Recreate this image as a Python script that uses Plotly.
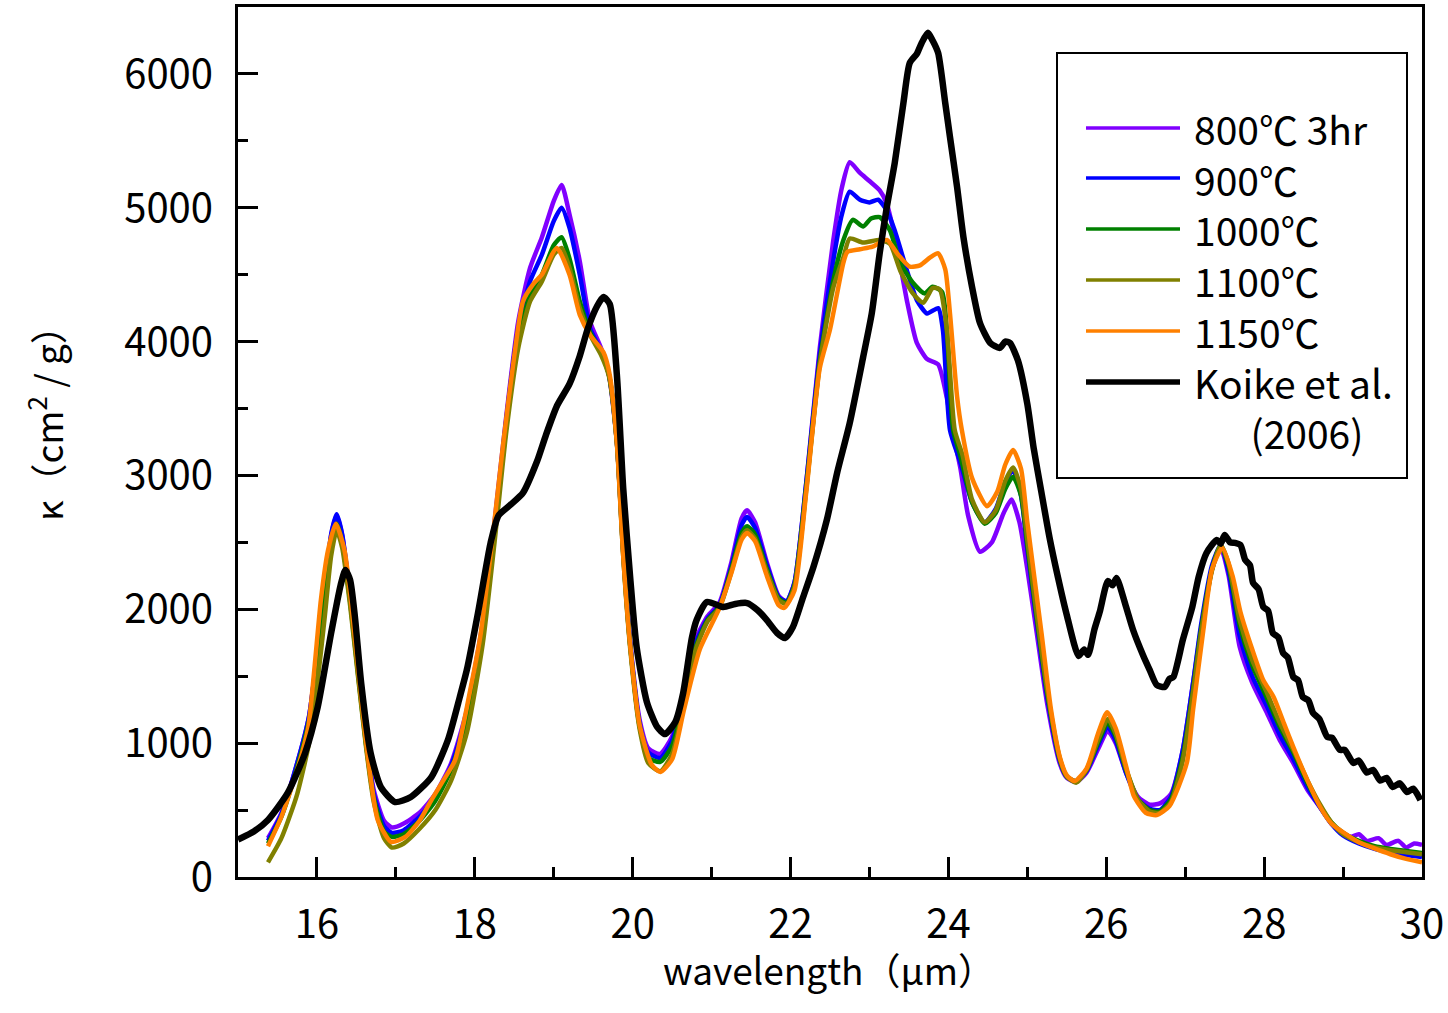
import plotly.graph_objects as go

# ---------------- data ----------------
wl_800 = [15.38, 15.55, 15.75, 15.9, 16.0, 16.1, 16.18, 16.25, 16.32, 16.42, 16.52, 16.62, 16.72, 16.85, 16.95,
          17.1, 17.3, 17.5, 17.7, 17.9, 18.1, 18.25, 18.4, 18.55, 18.7, 18.85, 19.0, 19.1, 19.2, 19.33, 19.46,
          19.6, 19.7, 19.8, 19.88, 19.97, 20.09, 20.2, 20.35, 20.5, 20.65, 20.8, 20.95, 21.1, 21.25, 21.38,
          21.45, 21.55, 21.7, 21.85, 21.95, 22.05, 22.2, 22.37, 22.54, 22.65, 22.75, 22.88, 23.0, 23.13, 23.22,
          23.35, 23.48, 23.6, 23.73, 23.87, 23.98, 24.05, 24.15, 24.25, 24.4, 24.55, 24.7, 24.8, 24.9, 25.0,
          25.12, 25.25, 25.41, 25.5, 25.62, 25.75, 25.9, 26.02, 26.12, 26.25, 26.4, 26.55, 26.68, 26.82, 26.97,
          27.1, 27.2, 27.34, 27.45, 27.55, 27.69, 27.85, 28.04, 28.2, 28.37, 28.55, 28.71, 28.85, 29.0, 29.1,
          29.2, 29.3, 29.45, 29.55, 29.7, 29.8, 29.9, 30.0]
k_800 = [290, 480, 850, 1200, 1650, 2150, 2550, 2700, 2550, 2100, 1550, 1050, 650, 420, 370,
         400, 480, 620, 850, 1250, 1900, 2650, 3450, 4150, 4550, 4780, 5050, 5170, 4950, 4600, 4150,
         3950, 3750, 3250, 2450, 1750, 1170, 960, 920, 1050, 1400, 1780, 1950, 2050, 2350, 2680,
         2740, 2650, 2350, 2100, 2060, 2200, 2950, 3950, 4750, 5150, 5340, 5260, 5200, 5130, 5030,
         4700, 4290, 3990, 3870, 3830, 3580, 3340, 3060, 2700, 2430, 2500, 2720, 2820, 2650, 2300,
         1820, 1300, 850, 740, 710, 780, 960, 1090, 1000, 780, 600, 540, 550, 620, 950,
         1450, 1850, 2300, 2460, 2250, 1720, 1450, 1220, 1020, 850, 650, 520, 400, 330, 300,
         320, 270, 290, 240, 270, 220, 250, 240]

wl_900 = [15.38, 15.55, 15.75, 15.9, 16.0, 16.1, 16.18, 16.25, 16.32, 16.42, 16.52, 16.62, 16.72, 16.85, 16.95,
          17.1, 17.3, 17.5, 17.7, 17.9, 18.1, 18.25, 18.4, 18.55, 18.7, 18.85, 19.0, 19.1, 19.2, 19.33, 19.46,
          19.6, 19.7, 19.8, 19.88, 19.97, 20.09, 20.2, 20.35, 20.5, 20.65, 20.8, 20.95, 21.1, 21.25, 21.38,
          21.45, 21.55, 21.7, 21.85, 21.95, 22.05, 22.2, 22.37, 22.54, 22.65, 22.75, 22.88, 23.0, 23.11, 23.22,
          23.32, 23.47, 23.6, 23.73, 23.87, 23.93, 24.02, 24.15, 24.3, 24.46, 24.6, 24.72, 24.82, 24.92, 25.0,
          25.12, 25.25, 25.41, 25.5, 25.62, 25.75, 25.9, 26.02, 26.12, 26.25, 26.4, 26.55, 26.68, 26.82, 26.97,
          27.1, 27.2, 27.34, 27.45, 27.55, 27.69, 27.85, 28.04, 28.2, 28.37, 28.55, 28.71, 28.85, 29.0, 29.2,
          29.4, 29.6, 29.8, 30.0]
k_900 = [270, 470, 850, 1200, 1650, 2150, 2560, 2710, 2560, 2100, 1550, 1030, 620, 380, 330,
         350, 450, 600, 830, 1220, 1880, 2620, 3420, 4100, 4450, 4650, 4900, 5000, 4850, 4500, 4100,
         3930, 3750, 3250, 2430, 1730, 1140, 930, 890, 1020, 1370, 1750, 1930, 2030, 2320, 2630,
         2690, 2610, 2330, 2090, 2060, 2200, 2950, 3900, 4600, 4950, 5120, 5060, 5040, 5060, 4980,
         4830, 4540, 4310, 4210, 4250, 4090, 3340, 3100, 2800, 2650, 2750, 2950, 3040, 2850, 2450,
         1900, 1350, 870, 750, 715, 790, 990, 1120, 1020, 780, 580, 510, 500, 600, 950,
         1450, 1880, 2330, 2480, 2280, 1800, 1500, 1270, 1060, 880, 670, 520, 400, 310, 250,
         210, 185, 165, 150]

wl_1000 = [15.38, 15.55, 15.75, 15.9, 16.0, 16.1, 16.18, 16.25, 16.32, 16.42, 16.52, 16.62, 16.72, 16.85, 16.95,
           17.1, 17.3, 17.5, 17.7, 17.9, 18.1, 18.25, 18.4, 18.55, 18.7, 18.85, 19.0, 19.1, 19.2, 19.33, 19.46,
           19.6, 19.7, 19.8, 19.88, 19.97, 20.09, 20.2, 20.35, 20.5, 20.65, 20.8, 20.95, 21.1, 21.25, 21.38,
           21.45, 21.55, 21.7, 21.85, 21.95, 22.05, 22.2, 22.37, 22.54, 22.67, 22.79, 22.92, 23.02, 23.13, 23.26,
           23.39, 23.55, 23.7, 23.8, 23.92, 23.98, 24.06, 24.15, 24.3, 24.46, 24.6, 24.72, 24.82, 24.92, 25.0,
           25.12, 25.25, 25.41, 25.5, 25.62, 25.75, 25.9, 26.02, 26.12, 26.25, 26.4, 26.55, 26.68, 26.82, 26.97,
           27.1, 27.2, 27.34, 27.45, 27.55, 27.69, 27.85, 28.04, 28.2, 28.37, 28.55, 28.71, 28.85, 29.0, 29.2,
           29.4, 29.6, 29.8, 30.0]
k_1000 = [250, 450, 820, 1170, 1600, 2100, 2500, 2640, 2500, 2060, 1520, 1000, 590, 340, 300,
          320, 420, 570, 800, 1180, 1840, 2580, 3380, 4000, 4350, 4500, 4720, 4780, 4620, 4300, 4070,
          3920, 3750, 3250, 2420, 1720, 1120, 890, 860, 980, 1330, 1720, 1920, 2020, 2300, 2570,
          2620, 2560, 2300, 2080, 2050, 2180, 2920, 3850, 4450, 4760, 4910, 4860, 4920, 4930, 4830,
          4590, 4440, 4360, 4410, 4370, 4090, 3340, 3150, 2800, 2640, 2720, 2900, 2990, 2850, 2480,
          1930, 1380, 880, 750, 715, 800, 1010, 1150, 1050, 800, 580, 500, 490, 580, 900,
          1400, 1840, 2300, 2480, 2320, 1880, 1580, 1330, 1120, 930, 700, 530, 410, 330, 270,
          230, 210, 195, 180]

wl_1100 = [15.38, 15.55, 15.75, 15.9, 16.0, 16.1, 16.18, 16.25, 16.32, 16.42, 16.52, 16.62, 16.72, 16.85, 16.95,
           17.1, 17.3, 17.5, 17.7, 17.9, 18.1, 18.25, 18.4, 18.55, 18.7, 18.85, 19.0, 19.1, 19.2, 19.33, 19.46,
           19.6, 19.7, 19.8, 19.88, 19.97, 20.09, 20.2, 20.35, 20.5, 20.65, 20.8, 20.95, 21.1, 21.25, 21.38,
           21.45, 21.55, 21.7, 21.85, 21.95, 22.05, 22.2, 22.37, 22.54, 22.67, 22.75, 22.92, 23.13, 23.26, 23.39,
           23.55, 23.68, 23.8, 23.89, 23.98, 24.08, 24.18, 24.3, 24.46, 24.6, 24.72, 24.82, 24.92, 25.0,
           25.12, 25.25, 25.41, 25.5, 25.62, 25.75, 25.9, 26.02, 26.12, 26.25, 26.4, 26.55, 26.68, 26.82, 26.97,
           27.1, 27.2, 27.34, 27.45, 27.55, 27.69, 27.85, 28.04, 28.2, 28.37, 28.55, 28.71, 28.85, 29.0, 29.2,
           29.4, 29.6, 29.8, 30.0]
k_1100 = [110, 290, 620, 1000, 1420, 1950, 2400, 2590, 2460, 2030, 1500, 980, 560, 290, 220,
          250, 360, 500, 720, 1080, 1740, 2500, 3330, 3950, 4300, 4450, 4650, 4700, 4550, 4250, 4050,
          3900, 3740, 3240, 2400, 1700, 1100, 850, 790, 920, 1280, 1700, 1910, 2010, 2280, 2540,
          2590, 2530, 2280, 2070, 2040, 2170, 2900, 3830, 4400, 4630, 4770, 4740, 4760, 4730, 4530,
          4360, 4290, 4400, 4390, 4090, 3340, 3150, 2820, 2650, 2740, 2960, 3060, 2900, 2520,
          1960, 1400, 890, 750, 705, 800, 1030, 1180, 1070, 810, 580, 490, 480, 560, 870,
          1380, 1820, 2290, 2480, 2340, 1920, 1620, 1370, 1150, 950, 720, 540, 410, 320, 260,
          220, 200, 185, 170]

wl_1150 = [15.38, 15.55, 15.76, 15.89, 15.97, 16.05, 16.14, 16.24, 16.35, 16.43, 16.52, 16.61, 16.69, 16.77,
           16.94, 17.12, 17.3, 17.45, 17.6, 17.75, 17.95, 18.07, 18.23, 18.36, 18.49, 18.61, 18.74, 18.85,
           19.04, 19.2, 19.33, 19.46, 19.63, 19.71, 19.8, 19.88, 19.97, 20.09, 20.24, 20.35, 20.5, 20.65,
           20.85, 21.1, 21.25, 21.38, 21.45, 21.55, 21.7, 21.85, 21.92, 22.05, 22.2, 22.37, 22.5, 22.67,
           22.72, 22.88, 23.04, 23.22, 23.35, 23.51, 23.64, 23.77, 23.87, 23.96, 24.02, 24.11, 24.17, 24.3,
           24.49, 24.62, 24.72, 24.82, 24.92, 25.0, 25.18, 25.3, 25.41, 25.5, 25.6, 25.75, 25.9, 26.01,
           26.12, 26.25, 26.35, 26.5, 26.64, 26.8, 27.02, 27.1, 27.23, 27.34, 27.47, 27.6, 27.7, 27.85,
           27.99, 28.12, 28.25, 28.37, 28.55, 28.71, 28.85, 28.96, 29.2, 29.38, 29.6, 29.8, 30.0]
k_1150 = [230, 450, 820, 1120, 1570, 2070, 2440, 2640, 2440, 2070, 1570, 1076, 702, 426,
          262, 300, 420, 575, 720, 874, 1420, 1800, 2560, 3240, 3850, 4300, 4430, 4500,
          4700, 4500, 4200, 4050, 3920, 3750, 3240, 2400, 1720, 1130, 840, 785, 880, 1250,
          1700, 2010, 2270, 2520, 2570, 2510, 2250, 2030, 2010, 2140, 2880, 3800, 4090, 4590,
          4670, 4690, 4710, 4760, 4660, 4560, 4570, 4630, 4660, 4540, 4210, 3590, 3340, 2980,
          2770, 2880, 3080, 3190, 3050, 2650, 1820, 1250, 900, 760, 717, 810, 1080, 1230,
          1110, 830, 605, 480, 463, 530, 852, 1250, 1845, 2300, 2460, 2250, 1980, 1700,
          1470, 1345, 1150, 970, 720, 523, 400, 351, 260, 217, 170, 135, 110]

wl_koike = [15.0, 15.2, 15.38, 15.63, 15.85, 16.01, 16.18, 16.3, 16.36, 16.42, 16.48, 16.56, 16.68, 16.81, 16.99,
            17.19, 17.45, 17.66, 17.81, 17.9, 18.04, 18.2, 18.3, 18.45, 18.61, 18.79, 18.9, 19.04, 19.2, 19.33,
            19.43, 19.55, 19.63, 19.71, 19.8, 19.88, 19.97, 20.05, 20.18, 20.31, 20.41, 20.54, 20.64, 20.75,
            20.81, 20.94, 21.15, 21.3, 21.45, 21.58, 21.7, 21.83, 21.93, 22.03, 22.16, 22.29, 22.46, 22.59,
            22.75, 22.92, 23.03, 23.13, 23.22, 23.32, 23.43, 23.51, 23.6, 23.66, 23.74, 23.8, 23.87, 23.96,
            24.02, 24.11, 24.19, 24.3, 24.4, 24.53, 24.65, 24.72, 24.78, 24.88, 25.0, 25.08, 25.18, 25.28,
            25.39, 25.5, 25.65, 25.72, 25.77, 25.85, 25.92, 26.02, 26.08, 26.13, 26.24, 26.34, 26.47, 26.55,
            26.64, 26.74, 26.8, 26.85, 26.97, 27.09, 27.17, 27.27, 27.4, 27.45, 27.5, 27.57, 27.63, 27.7,
            27.76, 27.82, 27.86, 27.93, 27.99, 28.05, 28.11, 28.18, 28.24, 28.3, 28.37, 28.43, 28.49, 28.56,
            28.62, 28.7, 28.8, 28.86, 28.96, 29.02, 29.13, 29.2, 29.3, 29.38, 29.47, 29.55, 29.63, 29.72,
            29.81, 29.89, 29.98]
k_koike = [280, 340, 426, 628, 926, 1270, 1823, 2180, 2294, 2220, 1950, 1450, 926, 672, 560,
           598, 747, 1024, 1345, 1550, 1972, 2496, 2700, 2780, 2870, 3108, 3300, 3519, 3684, 3893,
           4094, 4266, 4333, 4280, 3750, 2906, 2226, 1718, 1307, 1121, 1068, 1158, 1375, 1786,
           1920, 2055, 2017, 2040, 2047, 1995, 1920, 1823, 1786, 1868, 2092, 2316, 2668, 3019,
           3392, 3885, 4214, 4663, 5006, 5335, 5783, 6082, 6150, 6230, 6307, 6250, 6157, 5783,
           5529, 5155, 4782, 4408, 4139, 3990, 3953, 4000, 3990, 3860, 3534, 3205, 2869, 2540,
           2234, 1957, 1651, 1700, 1660, 1850, 1987, 2211, 2180, 2234, 2040, 1845, 1651, 1547,
           1434, 1420, 1480, 1494, 1771, 2017, 2241, 2421, 2518, 2490, 2555, 2500, 2496, 2480,
           2369, 2330, 2197, 2150, 2017, 1990, 1823, 1790, 1674, 1640, 1494, 1470, 1345, 1320,
           1225, 1180, 1046, 1040, 949, 950, 852, 870, 780, 800, 720, 740, 672, 700,
           635, 660, 575]

series_names = ["800℃ 3hr", "900℃", "1000℃", "1100℃", "1150℃", "Koike et al. (2006)"]
legend_lines = ["800℃ 3hr", "900℃", "1000℃", "1100℃", "1150℃", "Koike et al.",
                "\u3000\u00a0\u00a0(2006)"]
series_wl = [wl_800, wl_900, wl_1000, wl_1100, wl_1150, wl_koike]
series_k = [k_800, k_900, k_1000, k_1100, k_1150, k_koike]
series_colors = ["#8000FF", "#0000FF", "#008000", "#808000", "#FF8000", "#000000"]
series_widths = [4.5, 4.5, 4.5, 4.5, 4.5, 6.5]

x_ticks = [16, 18, 20, 22, 24, 26, 28, 30]
y_ticks = [0, 1000, 2000, 3000, 4000, 5000, 6000]

# ---------------- layout geometry ----------------
W, H = 1448, 1013
ML, MR, MT, MB = 238, 26, 7, 136
PW, PH = W - ML - MR, H - MT - MB
FONT = "Noto Sans CJK JP, Noto Sans, sans-serif"


def px(xp):
    return (xp - ML) / PW


def py(yp):
    return (H - MB - yp) / PH


fig = go.Figure()
for name, xs, ys, c, w in zip(series_names, series_wl, series_k, series_colors, series_widths):
    fig.add_trace(go.Scatter(x=xs, y=ys, mode="lines", name=name, showlegend=False,
                             line=dict(color=c, width=w, shape="spline", smoothing=0.6)))

# legend drawn by hand (box, sample lines and one multi-line label block)
shapes = [dict(type="rect", xref="paper", yref="paper", x0=px(1057), x1=px(1407), y0=py(478), y1=py(53),
               line=dict(color="black", width=2), fillcolor="white", layer="above")]
leg_y = [128, 178, 229, 280, 331, 382]
for c, w, yy in zip(series_colors, series_widths, leg_y):
    shapes.append(dict(type="line", xref="paper", yref="paper", x0=px(1086), x1=px(1180), y0=py(yy), y1=py(yy),
                       line=dict(color=c, width=w - 1), layer="above"))

annotations = [
    dict(xref="paper", yref="paper", x=px(1192), y=py(280), text="<br>".join(legend_lines), showarrow=False,
         xanchor="left", yanchor="middle", align="left", font=dict(size=39, color="black", family=FONT)),
    dict(xref="paper", yref="paper", x=px(45), y=py(414), text="κ（cm<sup>2</sup> / g）", showarrow=False,
         textangle=-90, xanchor="center", yanchor="middle", font=dict(size=37, color="black", family=FONT)),
    dict(xref="paper", yref="paper", x=px(829), y=py(969), text="wavelength（μm）", showarrow=False,
         xanchor="center", yanchor="middle", font=dict(size=37, color="black", family=FONT)),
]

fig.update_layout(
    width=W, height=H,
    margin=dict(l=ML, r=MR, t=MT, b=MB, autoexpand=False),
    paper_bgcolor="white", plot_bgcolor="white",
    font=dict(family=FONT, color="black", size=40),
    shapes=shapes, annotations=annotations, showlegend=False,
)
fig.update_xaxes(range=[15, 30], tickvals=x_ticks, ticks="inside", ticklen=20, tickwidth=3, tickcolor="black",
                 minor=dict(dtick=1, tick0=15, ticks="inside", ticklen=10, tickwidth=3, tickcolor="black"),
                 showline=True, linewidth=3, linecolor="black", mirror=True, showgrid=False, zeroline=False,
                 tickfont=dict(size=40, family=FONT), ticklabelstandoff=10)
fig.update_yaxes(range=[0, 6500], tickvals=y_ticks, ticks="inside", ticklen=20, tickwidth=3, tickcolor="black",
                 minor=dict(dtick=500, tick0=0, ticks="inside", ticklen=10, tickwidth=3, tickcolor="black"),
                 showline=True, linewidth=3, linecolor="black", mirror=True, showgrid=False, zeroline=False,
                 tickfont=dict(size=40, family=FONT), ticklabelstandoff=14)

fig.write_html("out.html")
